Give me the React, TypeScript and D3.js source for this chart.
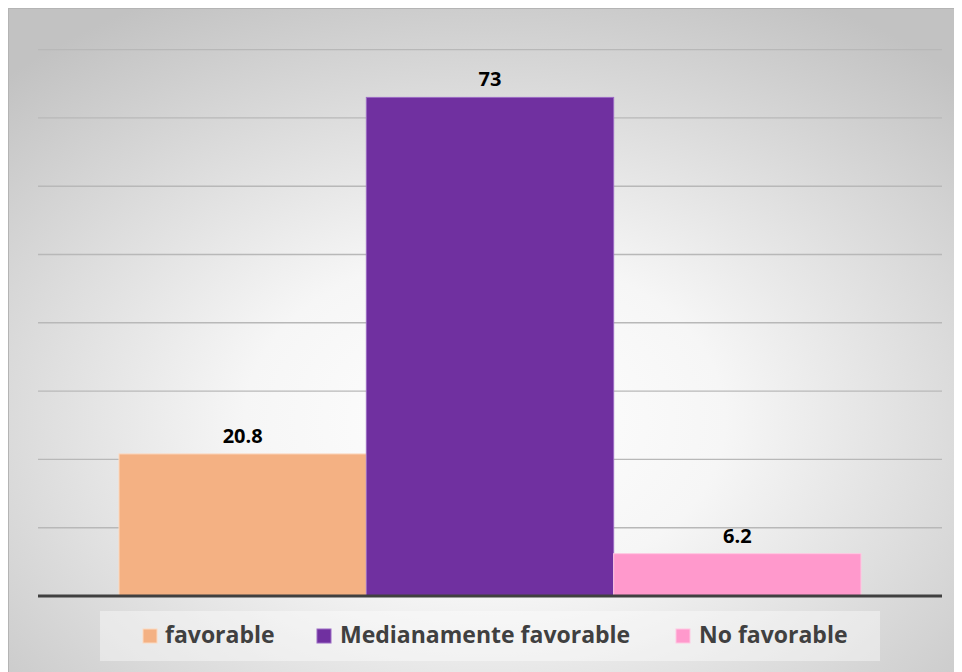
import React from "react";
import * as d3 from "d3";

const categories = ["favorable", "Medianamente favorable", "No favorable"];
const values = [20.8, 73, 6.2];
const colors = ["#F4B183", "#7030A0", "#FF99CC"];
const strokes = ["#FBD9C0", "#9B6BC4", "#FFC8E2"];
const yTicks = [0, 10, 20, 30, 40, 50, 60, 70, 80];

const W = 954;
const H = 664;
// page coords minus 8px body margin
const plotLeft = 30;
const plotRight = 934;
const plotBottom = 588;
const plotTop = 41.6;

export default function App() {
  const y = d3.scaleLinear().domain([0, 80]).range([plotBottom, plotTop]);
  const x = d3
    .scaleBand<string>()
    .domain(categories)
    .range([111, 853])
    .padding(0);

  const font = "'Open Sans', 'Liberation Sans', sans-serif";
  const legendItems = [
    { sx: 135, tx: 157 },
    { sx: 309, tx: 332 },
    { sx: 668, tx: 691 },
  ];

  return (
    <svg width={W} height={H} style={{ display: "block" }}>
      <defs>
        <radialGradient id="bg" cx="0.5" cy="0.62" r="0.72" gradientUnits="objectBoundingBox">
          <stop offset="0" stopColor="#ffffff" />
          <stop offset="0.35" stopColor="#f6f6f6" />
          <stop offset="1" stopColor="#c2c2c2" />
        </radialGradient>
      </defs>
      <rect x={0} y={0} width={W} height={H} fill="url(#bg)" />
      <line x1={0.5} y1={0} x2={0.5} y2={H} stroke="#b4b4b4" strokeWidth={1} />
      <line x1={0} y1={0.5} x2={W} y2={0.5} stroke="#b4b4b4" strokeWidth={1} />

      {yTicks
        .filter((t) => t > 0)
        .map((t) => (
          <line
            key={t}
            x1={plotLeft}
            x2={plotRight}
            y1={y(t)}
            y2={y(t)}
            stroke="#b8b8b8"
            strokeWidth={1.4}
          />
        ))}

      {categories.map((c, i) => (
        <rect
          key={c}
          x={x(c)!}
          y={y(values[i])}
          width={x.bandwidth()}
          height={plotBottom - y(values[i])}
          fill={colors[i]}
          stroke={strokes[i]}
          strokeWidth={1}
        />
      ))}

      <line
        x1={plotLeft}
        x2={plotRight}
        y1={plotBottom}
        y2={plotBottom}
        stroke="#404040"
        strokeWidth={3}
      />

      {categories.map((c, i) => (
        <text
          key={c}
          x={x(c)! + x.bandwidth() / 2}
          y={y(values[i]) - 11}
          textAnchor="middle"
          fontFamily={font}
          fontWeight="bold"
          fontSize={20}
          fill="#000"
        >
          {values[i]}
        </text>
      ))}

      <rect x={92} y={603} width={780} height={50} fill="#ffffff" fillOpacity={0.4} />
      {categories.map((c, i) => (
        <g key={c}>
          <rect
            x={legendItems[i].sx}
            y={621}
            width={14}
            height={14}
            fill={colors[i]}
            stroke={strokes[i]}
            strokeWidth={1}
          />
          <text
            x={legendItems[i].tx}
            y={635}
            fontFamily={font}
            fontWeight="bold"
            fontSize={23}
            fill="#404040"
          >
            {c}
          </text>
        </g>
      ))}
    </svg>
  );
}
